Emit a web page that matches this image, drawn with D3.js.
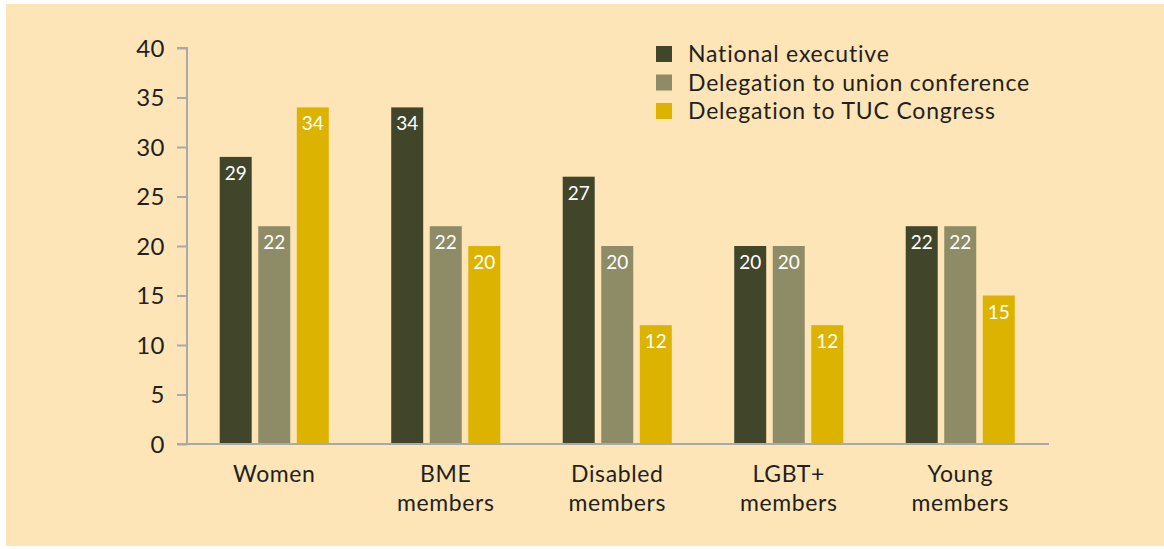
<!DOCTYPE html>
<html><head><meta charset="utf-8">
<script src="https://cdn.jsdelivr.net/npm/d3@7"></script>
<style>html,body{margin:0;padding:0;background:#fff;}svg{display:block;}text{font-variant-ligatures:none;font-feature-settings:"liga" 0;}</style>
</head><body>
<svg id="chart" width="1164" height="549"></svg>
<script>
const categories = [["Women"], ["BME", "members"], ["Disabled", "members"], ["LGBT+", "members"], ["Young", "members"]];
const seriesNames = ["National executive", "Delegation to union conference", "Delegation to TUC Congress"];
const nationalExecutive = [29, 34, 27, 20, 22];
const unionConference = [22, 22, 20, 20, 22];
const tucCongress = [34, 20, 12, 12, 15];
const yTicks = [0, 5, 10, 15, 20, 25, 30, 35, 40];
const colors = ["#41462a", "#8e8c66", "#dcb300"];

const series = [nationalExecutive, unionConference, tucCongress];
const svg = d3.select("#chart");
const font = "Lato, 'Open Sans', sans-serif";
const textColor = "#231f20";

svg.append("rect").attr("x", 6).attr("y", 4).attr("width", 1158).attr("height", 542).attr("fill", "#fde5b7");

const y = d3.scaleLinear().domain([0, 40]).range([444, 48]);
const x0 = d3.scaleBand().domain(d3.range(categories.length)).range([188.5, 1046]).paddingInner(0.364).paddingOuter(0.182);
const x1 = d3.scaleBand().domain(d3.range(series.length)).range([0, x0.bandwidth()]).paddingInner(0.17).paddingOuter(0);

// y axis
const yAxis = svg.append("g").attr("transform", "translate(187,0)")
  .call(d3.axisLeft(y).tickValues(yTicks).tickSize(10).tickPadding(12));
yAxis.select(".domain").attr("stroke", "#a9a9a9").attr("stroke-width", 2).attr("d", `M-10,${y(40)}H0V${y(0)}`);
yAxis.selectAll(".tick line").attr("stroke", "#a9a9a9").attr("stroke-width", 2);
yAxis.selectAll(".tick text").attr("font-family", font).attr("font-size", 24).attr("fill", textColor)
  .attr("dy", "0.35em").attr("letter-spacing", 0.5);

// bars
const groups = svg.append("g").selectAll("g").data(categories).join("g")
  .attr("transform", (d, i) => `translate(${x0(i)},0)`);
groups.each(function(c, ci) {
  const g = d3.select(this);
  series.forEach((s, si) => {
    g.append("rect").attr("x", x1(si)).attr("y", y(s[ci])).attr("width", x1.bandwidth())
      .attr("height", y(0) - y(s[ci])).attr("fill", colors[si]);
    g.append("text").attr("x", x1(si) + x1.bandwidth() / 2).attr("y", y(s[ci]) + 23)
      .attr("text-anchor", "middle").attr("font-family", font).attr("font-size", 19)
      .attr("fill", "#ffffff").text(s[ci]);
  });
});

// x axis line
svg.append("line").attr("x1", 177).attr("x2", 1049).attr("y1", y(0)).attr("y2", y(0))
  .attr("stroke", "#a9a9a9").attr("stroke-width", 2);

// category labels
categories.forEach((lines, i) => {
  const t = svg.append("text").attr("text-anchor", "middle").attr("font-family", font)
    .attr("font-size", 23).attr("fill", textColor).attr("letter-spacing", 0.6);
  lines.forEach((ln, li) => {
    t.append("tspan").attr("x", x0(i) + x0.bandwidth() / 2).attr("y", 482 + li * 29).text(ln);
  });
});

// legend
seriesNames.forEach((name, i) => {
  const cy = 54 + i * 28.5;
  svg.append("rect").attr("x", 656).attr("y", cy - 8).attr("width", 16).attr("height", 16).attr("fill", colors[i]);
  svg.append("text").attr("x", 688).attr("y", cy).attr("dy", "0.35em").attr("font-family", font)
    .attr("font-size", 23).attr("fill", textColor).attr("letter-spacing", 0.8).text(name);
});
</script>
</body></html>
